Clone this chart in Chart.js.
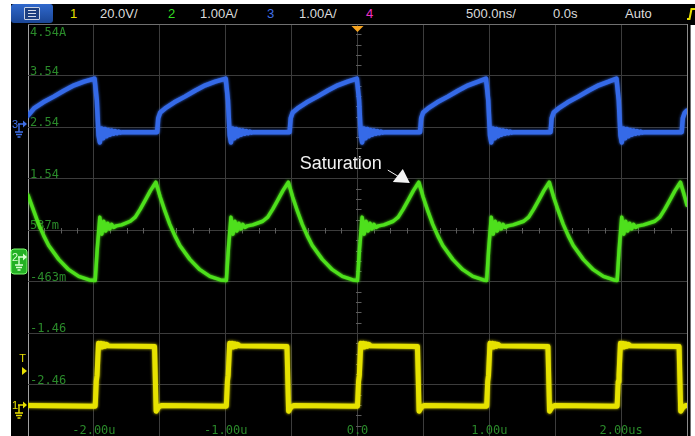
<!DOCTYPE html>
<html>
<head>
<meta charset="utf-8">
<script src="https://cdn.jsdelivr.net/npm/chart.js@4.4.1/dist/chart.umd.min.js"></script>
<style>
html,body{margin:0;padding:0;background:#fff;}
body{width:695px;height:436px;position:relative;overflow:hidden;font-family:"Liberation Sans",Arial,sans-serif;}
#screen{position:absolute;left:11px;top:4px;width:679px;height:432px;background:#000;border-right:1px solid #6e6e6e;}
#bar{position:absolute;left:11px;top:4px;width:684px;height:21px;background:#000;}
#menu{position:absolute;left:11px;top:4px;width:42px;height:19px;border-radius:3px;background:linear-gradient(#3068cc,#1a4696);}
#menu i{position:absolute;left:13px;top:3px;width:14px;height:11px;border:1px solid #c9d2e3;border-radius:1px;background:#1d3f80;}
#menu b{position:absolute;left:3px;height:1px;width:8px;background:#d5dcea;}
.t{position:absolute;top:6px;font-size:13px;line-height:16px;color:#dcdcdc;white-space:nowrap;}
#trig{position:absolute;left:686px;top:6px;}
canvas{position:absolute;left:0;top:0;}
</style>
</head>
<body>
<div id="screen"></div>
<div id="bar"></div>
<div id="menu"><i><b style="top:2px"></b><b style="top:5px"></b><b style="top:8px"></b></i></div>
<div class="t" style="left:70px;color:#e8e000">1</div>
<div class="t" style="left:100px">20.0V/</div>
<div class="t" style="left:168px;color:#33dd22">2</div>
<div class="t" style="left:200px">1.00A/</div>
<div class="t" style="left:267px;color:#3f6fe8">3</div>
<div class="t" style="left:299px">1.00A/</div>
<div class="t" style="left:366px;color:#f030c8">4</div>
<div class="t" style="left:466px">500.0ns/</div>
<div class="t" style="left:553px">0.0s</div>
<div class="t" style="left:625px">Auto</div>
<svg id="trig" width="9" height="16"><polyline points="1,13 3.5,13 5.5,3 9,3" fill="none" stroke="#e8e000" stroke-width="2"/></svg>
<canvas id="c" width="695" height="436"></canvas>
<script>
// ---- axes (time in microseconds, vertical in the graticule's labelled units) ----
const xGrid = [-2.5, -2.0, -1.5, -1.0, -0.5, 0, 0.5, 1.0, 1.5, 2.0, 2.5];
const yGrid = [-3.46, -2.46, -1.46, -0.46, 0.54, 1.54, 2.54, 3.54, 4.54];
const xLabelValues = [-2, -1, 0, 1, 2];
const xLabels = ["-2.00u", "-1.00u", "0.0", "1.00u", "2.00us"];
const yLabelValues = [4.54, 3.54, 2.54, 1.54, 0.54, -0.46, -1.46, -2.46];
const yLabels = ["4.54A", "3.54", "2.54", "1.54", "537m", "-463m", "-1.46", "-2.46"];

// ---- channel 1 (yellow, gate drive) ----
const ch1Time = [
-2.5,
-1.99,-1.982,-1.976,-1.965,-1.955,-1.945,-1.935,-1.925,-1.915,-1.905,-1.89,-1.54,
-1.528,-1.51,-1.49,
-0.995,-0.987,-0.981,-0.97,-0.96,-0.95,-0.94,-0.93,-0.92,-0.91,-0.895,-0.535,
-0.523,-0.505,-0.485,
0,0.008,0.014,0.025,0.035,0.045,0.055,0.065,0.075,0.085,0.10,0.455,
0.467,0.485,0.505,
0.98,0.988,0.994,1.005,1.015,1.025,1.035,1.045,1.055,1.065,1.08,1.445,
1.457,1.475,1.495,
1.97,1.978,1.984,1.995,2.005,2.015,2.025,2.035,2.045,2.055,2.07,2.44,
2.452,2.47,2.49,2.5];
const ch1Level = [
-2.87,
-2.88,-2.40,-2.28,-1.66,-1.74,-1.66,-1.73,-1.67,-1.72,-1.68,-1.71,-1.72,
-2.98,-2.90,-2.87,
-2.88,-2.40,-2.28,-1.66,-1.74,-1.66,-1.73,-1.67,-1.72,-1.68,-1.71,-1.72,
-2.98,-2.90,-2.87,
-2.88,-2.40,-2.28,-1.66,-1.74,-1.66,-1.73,-1.67,-1.72,-1.68,-1.71,-1.72,
-2.98,-2.90,-2.87,
-2.88,-2.40,-2.28,-1.66,-1.74,-1.66,-1.73,-1.67,-1.72,-1.68,-1.71,-1.72,
-2.98,-2.90,-2.87,
-2.88,-2.40,-2.28,-1.66,-1.74,-1.66,-1.73,-1.67,-1.72,-1.68,-1.71,-1.72,
-2.98,-2.90,-2.87,-2.87];

// ---- channel 2 (green, inductor current) ----
const ch2Time = [
-2.5,-2.455,-2.419,-2.381,-2.343,-2.267,-2.191,-2.115,-2.035,
-1.99,-1.975,-1.955,-1.94,-1.925,-1.91,-1.895,-1.88,-1.865,-1.85,-1.83,-1.79,-1.724,-1.686,-1.648,-1.61,-1.572,-1.53,
-1.497,-1.46,-1.424,-1.386,-1.348,-1.272,-1.196,-1.12,-1.04,
-0.995,-0.98,-0.96,-0.945,-0.93,-0.915,-0.90,-0.885,-0.87,-0.855,-0.835,-0.795,-0.719,-0.681,-0.643,-0.605,-0.567,-0.525,
-0.492,-0.455,-0.419,-0.381,-0.343,-0.267,-0.191,-0.115,-0.035,
0,0.015,0.035,0.05,0.065,0.08,0.095,0.11,0.125,0.14,0.16,0.20,0.271,0.309,0.347,0.385,0.423,0.465,
0.498,0.535,0.571,0.609,0.647,0.723,0.799,0.875,0.955,
0.98,0.995,1.015,1.03,1.045,1.06,1.075,1.09,1.105,1.12,1.14,1.18,1.261,1.299,1.337,1.375,1.413,1.455,
1.488,1.525,1.561,1.599,1.637,1.713,1.789,1.865,1.945,
1.97,1.985,2.005,2.02,2.035,2.05,2.065,2.08,2.095,2.11,2.13,2.17,2.256,2.294,2.332,2.37,2.408,2.45,
2.483,2.5];
const ch2Amps = [
1.22,0.90,0.65,0.43,0.24,-0.03,-0.23,-0.36,-0.43,
-0.44,0.16,0.79,0.46,0.71,0.52,0.67,0.56,0.65,0.59,0.62,0.64,0.71,0.79,0.945,1.12,1.30,1.47,
1.18,0.90,0.65,0.43,0.24,-0.03,-0.23,-0.36,-0.43,
-0.44,0.16,0.79,0.46,0.71,0.52,0.67,0.56,0.65,0.59,0.62,0.64,0.71,0.79,0.945,1.12,1.30,1.47,
1.18,0.90,0.65,0.43,0.24,-0.03,-0.23,-0.36,-0.43,
-0.44,0.16,0.79,0.46,0.71,0.52,0.67,0.56,0.65,0.59,0.62,0.64,0.71,0.79,0.945,1.12,1.30,1.47,
1.18,0.90,0.65,0.43,0.24,-0.03,-0.23,-0.36,-0.43,
-0.44,0.16,0.79,0.46,0.71,0.52,0.67,0.56,0.65,0.59,0.62,0.64,0.71,0.79,0.945,1.12,1.30,1.47,
1.18,0.90,0.65,0.43,0.24,-0.03,-0.23,-0.36,-0.43,
-0.44,0.16,0.79,0.46,0.71,0.52,0.67,0.56,0.65,0.59,0.62,0.64,0.71,0.79,0.945,1.12,1.30,1.47,
1.18,1.02];

// ---- channel 3 (blue, switch current) ----
const ch3Time = [
-2.5,-2.455,-2.385,-2.305,-2.225,-2.15,-2.075,-1.995,
-1.978,-1.965,-1.955,-1.942,-1.929,-1.916,-1.903,-1.89,-1.877,-1.864,-1.851,-1.838,-1.825,-1.812,-1.80,-1.78,
-1.52,-1.512,-1.497,-1.46,-1.39,-1.31,-1.23,-1.155,-1.08,-1.00,
-0.983,-0.97,-0.96,-0.947,-0.934,-0.921,-0.908,-0.895,-0.882,-0.869,-0.856,-0.843,-0.83,-0.817,-0.805,-0.785,
-0.515,-0.507,-0.492,-0.455,-0.385,-0.305,-0.225,-0.15,-0.075,-0.005,
0.012,0.025,0.035,0.048,0.061,0.074,0.087,0.10,0.113,0.126,0.139,0.152,0.165,0.178,0.19,0.21,
0.475,0.483,0.498,0.535,0.605,0.685,0.765,0.84,0.915,0.975,
0.992,1.005,1.015,1.028,1.041,1.054,1.067,1.08,1.093,1.106,1.119,1.132,1.145,1.158,1.17,1.19,
1.465,1.473,1.488,1.525,1.595,1.675,1.755,1.83,1.905,1.965,
1.982,1.995,2.005,2.018,2.031,2.044,2.057,2.07,2.083,2.096,2.109,2.122,2.135,2.148,2.16,2.18,
2.46,2.468,2.483,2.5];
const ch3Amps = [
2.76,2.90,3.02,3.13,3.25,3.35,3.42,3.48,
3.06,2.38,2.24,2.51,2.32,2.50,2.36,2.48,2.39,2.47,2.41,2.46,2.42,2.45,2.43,2.44,
2.44,2.71,2.82,2.90,3.02,3.13,3.25,3.35,3.42,3.48,
3.06,2.38,2.24,2.51,2.32,2.50,2.36,2.48,2.39,2.47,2.41,2.46,2.42,2.45,2.43,2.44,
2.44,2.71,2.82,2.90,3.02,3.13,3.25,3.35,3.42,3.48,
3.06,2.38,2.24,2.51,2.32,2.50,2.36,2.48,2.39,2.47,2.41,2.46,2.42,2.45,2.43,2.44,
2.44,2.71,2.82,2.90,3.02,3.13,3.25,3.35,3.42,3.48,
3.06,2.38,2.24,2.51,2.32,2.50,2.36,2.48,2.39,2.47,2.41,2.46,2.42,2.45,2.43,2.44,
2.44,2.71,2.82,2.90,3.02,3.13,3.25,3.35,3.42,3.48,
3.06,2.38,2.24,2.51,2.32,2.50,2.36,2.48,2.39,2.47,2.41,2.46,2.42,2.45,2.43,2.44,
2.44,2.71,2.82,2.86];

// reference markers (graticule units) and annotation anchor
const groundLevels = [2.60, 0.02, -2.86];   // ch3, ch2, ch1
const triggerLevel = -2.20;
const saturationPoint = {x: 0.465, y: 1.47};
const annotationText = "Saturation";

const pts = (t, v) => t.map((tt, i) => ({x: tt, y: v[i]}));

function roundRect(ctx, x, y, w, h, r) {
  ctx.beginPath();
  ctx.moveTo(x + r, y); ctx.lineTo(x + w - r, y); ctx.quadraticCurveTo(x + w, y, x + w, y + r);
  ctx.lineTo(x + w, y + h - r); ctx.quadraticCurveTo(x + w, y + h, x + w - r, y + h);
  ctx.lineTo(x + r, y + h); ctx.quadraticCurveTo(x, y + h, x, y + h - r);
  ctx.lineTo(x, y + r); ctx.quadraticCurveTo(x, y, x + r, y); ctx.closePath();
}

function groundMarker(ctx, L, py, label, color, boxed) {
  ctx.save();
  let c = color;
  if (boxed) {
    roundRect(ctx, L - 17, py - 8, 16, 25, 3);
    ctx.fillStyle = color; ctx.fill();
    ctx.strokeStyle = '#7dff6d'; ctx.lineWidth = 1; ctx.stroke();
    c = '#d8ffd0';
  }
  ctx.fillStyle = c; ctx.strokeStyle = c; ctx.lineWidth = 1.4;
  ctx.font = '11px "Liberation Sans"'; ctx.textAlign = 'left'; ctx.textBaseline = 'middle';
  ctx.fillText(label, L - 16, py + 1);
  ctx.beginPath();
  ctx.moveTo(L - 10, py); ctx.lineTo(L - 4, py);
  ctx.moveTo(L - 9, py); ctx.lineTo(L - 9, py + 8);
  ctx.moveTo(L - 13, py + 8); ctx.lineTo(L - 5, py + 8);
  ctx.moveTo(L - 12, py + 10.5); ctx.lineTo(L - 6, py + 10.5);
  ctx.moveTo(L - 10.5, py + 13); ctx.lineTo(L - 7.5, py + 13);
  ctx.stroke();
  ctx.beginPath(); ctx.moveTo(L - 5, py - 3.5); ctx.lineTo(L - 1, py); ctx.lineTo(L - 5, py + 3.5); ctx.closePath(); ctx.fill();
  ctx.restore();
}

const scopePlugin = {
  id: 'scope',
  beforeDatasetsDraw(chart) {
    const {ctx, chartArea: a, scales: {x, y}} = chart;
    ctx.save();
    // minor ticks on the centre cross
    const cx = Math.round(x.getPixelForValue((x.min + x.max) / 2)) + 0.5;
    const cy = Math.round(y.getPixelForValue((y.min + y.max) / 2)) + 0.5;
    ctx.strokeStyle = '#5c5c5c'; ctx.lineWidth = 1;
    ctx.beginPath();
    const xs = (xGrid[1] - xGrid[0]) / 4;
    for (let i = 0; i * xs <= x.max - x.min + 1e-9; i++) {
      if (i % 4 === 0) continue;
      const px = Math.round(x.getPixelForValue(x.min + i * xs)) + 0.5;
      ctx.moveTo(px, cy - 2.5); ctx.lineTo(px, cy + 3);
    }
    const ys = (yGrid[1] - yGrid[0]) / 5;
    for (let i = 0; i * ys <= y.max - y.min + 1e-9; i++) {
      if (i % 5 === 0) continue;
      const py = Math.round(y.getPixelForValue(y.min + i * ys)) + 0.5;
      ctx.moveTo(cx - 2.5, py); ctx.lineTo(cx + 3, py);
    }
    ctx.stroke();
    // graticule labels
    ctx.fillStyle = '#2a8a2a';
    ctx.font = '12px "DejaVu Sans Mono"';
    ctx.textBaseline = 'alphabetic';
    ctx.textAlign = 'left';
    yLabelValues.forEach((v, i) => {
      const py = y.getPixelForValue(v);
      ctx.fillText(yLabels[i], a.left + 2, i === 0 ? py + 12 : py - 1);
    });
    ctx.textAlign = 'center';
    xLabelValues.forEach((v, i) => ctx.fillText(xLabels[i], x.getPixelForValue(v), a.bottom - 2));
    ctx.restore();
  },
  beforeDatasetDraw(chart, args) {
    const ctx = chart.ctx;
    ctx.save();
    ctx.shadowColor = args.meta.dataset.options.borderColor;
    ctx.shadowBlur = 3;
  },
  afterDatasetDraw(chart) { chart.ctx.restore(); },
  afterDatasetsDraw(chart) {
    const {ctx, chartArea: a, scales: {x, y}} = chart;
    const L = a.left;
    // ground markers
    groundMarker(ctx, L, Math.round(y.getPixelForValue(groundLevels[0])), '3', '#3f6fe8', false);
    groundMarker(ctx, L, Math.round(y.getPixelForValue(groundLevels[1])), '2', '#24b024', true);
    groundMarker(ctx, L, Math.round(y.getPixelForValue(groundLevels[2])), '1', '#e8e000', false);
    ctx.save();
    // trigger level marker
    const ty = Math.round(y.getPixelForValue(triggerLevel));
    ctx.fillStyle = '#e8e000';
    ctx.font = '11px "Liberation Sans"'; ctx.textAlign = 'center'; ctx.textBaseline = 'middle';
    ctx.fillText('T', L - 5.5, ty - 12);
    ctx.beginPath(); ctx.moveTo(L - 6, ty - 4); ctx.lineTo(L - 1, ty); ctx.lineTo(L - 6, ty + 4); ctx.closePath(); ctx.fill();
    // trigger position marker
    const tx = x.getPixelForValue(0);
    ctx.fillStyle = '#f5a320';
    ctx.beginPath(); ctx.moveTo(tx - 6, a.top + 2); ctx.lineTo(tx + 6, a.top + 2); ctx.lineTo(tx, a.top + 8); ctx.closePath(); ctx.fill();
    // annotation
    const px = x.getPixelForValue(saturationPoint.x), py = y.getPixelForValue(saturationPoint.y);
    ctx.fillStyle = '#f2f2f2'; ctx.strokeStyle = '#f2f2f2';
    ctx.font = '18px "Liberation Sans"'; ctx.textAlign = 'right'; ctx.textBaseline = 'alphabetic';
    ctx.fillText(annotationText, px - 37, py - 13);
    ctx.lineWidth = 1;
    ctx.beginPath(); ctx.moveTo(px - 31, py - 12); ctx.lineTo(px - 21, py - 6); ctx.stroke();
    ctx.beginPath(); ctx.moveTo(px - 26, py); ctx.lineTo(px - 16, py - 13); ctx.lineTo(px - 9, py + 1); ctx.closePath(); ctx.fill();
    ctx.restore();
  }
};

const gridX = c => (c.index === 0 ? '#a0a0a0' : c.index === xGrid.length - 1 ? '#8a8a8a' : '#3c3c3c');
const gridY = c => (c.index === yGrid.length - 1 ? '#707070' : '#3c3c3c');

new Chart(document.getElementById('c'), {
  type: 'line',
  data: {
    datasets: [
      {label: 'Ch1', data: pts(ch1Time, ch1Level), borderColor: '#e6e200', borderWidth: 5},
      {label: 'Ch2', data: pts(ch2Time, ch2Amps), borderColor: '#4ee01c', borderWidth: 3.5},
      {label: 'Ch3', data: pts(ch3Time, ch3Amps), borderColor: '#356ae8', borderWidth: 4.5}
    ]
  },
  options: {
    responsive: false,
    animation: false,
    devicePixelRatio: 1,
    layout: {padding: {left: 28, top: 24, right: 8, bottom: 0}},
    elements: {point: {radius: 0}, line: {tension: 0, borderJoinStyle: 'round', borderCapStyle: 'round'}},
    plugins: {legend: {display: false}, tooltip: {enabled: false}},
    scales: {
      x: {
        type: 'linear', min: xGrid[0], max: xGrid[xGrid.length - 1],
        afterBuildTicks: s => { s.ticks = xGrid.map(v => ({value: v})); },
        ticks: {display: false},
        grid: {color: gridX, lineWidth: 1, drawTicks: false},
        border: {display: false}
      },
      y: {
        type: 'linear', min: yGrid[0], max: yGrid[yGrid.length - 1],
        afterBuildTicks: s => { s.ticks = yGrid.map(v => ({value: v})); },
        ticks: {display: false},
        grid: {color: gridY, lineWidth: 1, drawTicks: false},
        border: {display: false}
      }
    }
  },
  plugins: [scopePlugin]
});
</script>
</body>
</html>
